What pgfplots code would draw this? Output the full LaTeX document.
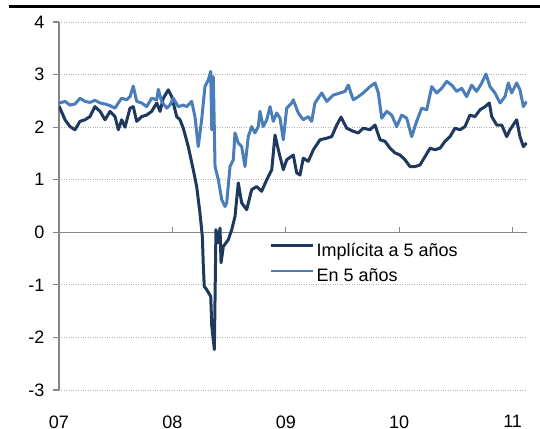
\documentclass[border=0pt]{standalone}
\usepackage{fontspec}
\setmainfont{Liberation Sans}
\usepackage{pgfplots}
\pgfplotsset{compat=1.18}
\definecolor{darkser}{RGB}{31,56,93}
\definecolor{lightser}{RGB}{74,126,187}
\definecolor{axgray}{RGB}{134,134,134}
\begin{document}
\begin{tikzpicture}
\path[use as bounding box] (-59pt,-38pt) rectangle (481pt,390pt);
\draw[black, line width=3pt] (-49.7pt,383.5pt) -- (481pt,383.5pt);
\begin{axis}[
  scale only axis, width=468pt, height=368pt,
  xmin=2007, xmax=2011.127, ymin=-3, ymax=4,
  axis y line*=left, axis x line*=bottom,
  x axis line style={draw=none},
  y axis line style={axgray, line width=1.5pt},
  ytick={-3,-2,-1,0,1,2,3,4}, yticklabels={-3,-2,-1,0,1,2,3,4},
  xtick={2007,2008,2009,2010,2011}, xticklabels={07,08,09,10,11},
  xtick style={draw=none},
  ytick style={axgray, line width=1.2pt},
  tick align=outside, major tick length=6pt,
  ymajorgrids, grid style={dotted, gray!60, line width=0.8pt},
  tick label style={font=\fontsize{18}{21}\selectfont},
  yticklabel style={xshift=-5pt},
  xticklabel style={yshift=-16pt},
  legend style={at={(axis cs:2008.86,-0.13)}, anchor=north west, draw=none, fill=none,
    inner sep=0pt, font=\fontsize{18}{21}\selectfont,
    nodes={text height=13pt, text depth=4pt, inner ysep=4.2pt, inner xsep=2pt},
    row sep=0pt},
  legend image code/.code={\draw[#1, line width=2.5pt] (0pt,6.5pt) -- (42pt,6.5pt);},
  legend cell align=left,
]
\draw[axgray, line width=1.5pt] (axis cs:2007,0) -- (axis cs:2011.127,0);
\draw[axgray, line width=1.2pt] (axis cs:2008,0) -- ++(0pt,5pt);
\draw[axgray, line width=1.2pt] (axis cs:2009,0) -- ++(0pt,5pt);
\draw[axgray, line width=1.2pt] (axis cs:2010,0) -- ++(0pt,5pt);
\draw[axgray, line width=1.2pt] (axis cs:2011,0) -- ++(0pt,5pt);
\addplot[darkser, line width=3pt, line join=round] coordinates {
(2007.000,2.40)(2007.009,2.36)(2007.053,2.14)(2007.097,2.01)(2007.141,1.95)(2007.185,2.11)
(2007.229,2.14)(2007.273,2.20)(2007.317,2.39)(2007.362,2.30)(2007.406,2.14)(2007.450,2.30)
(2007.494,2.20)(2007.523,1.95)(2007.553,2.14)(2007.582,2.00)(2007.626,2.36)(2007.655,2.39)
(2007.685,2.11)(2007.729,2.20)(2007.773,2.23)(2007.817,2.30)(2007.862,2.46)(2007.891,2.30)
(2007.920,2.55)(2007.964,2.71)(2007.994,2.58)(2008.038,2.20)(2008.067,2.14)(2008.096,1.98)
(2008.140,1.63)(2008.184,1.19)(2008.214,0.87)(2008.243,0.37)(2008.264,-0.08)(2008.272,-0.60)
(2008.281,-1.03)(2008.302,-1.09)(2008.338,-1.22)(2008.347,-1.78)(2008.370,-2.23)(2008.384,0.05)
(2008.405,-0.20)(2008.420,0.08)(2008.429,-0.58)(2008.449,-0.27)(2008.493,-0.14)(2008.523,0.05)
(2008.552,0.30)(2008.581,0.94)(2008.611,0.56)(2008.655,0.43)(2008.699,0.81)(2008.743,0.87)
(2008.787,0.78)(2008.832,1.00)(2008.876,1.19)(2008.905,1.85)(2008.934,1.57)(2008.978,1.19)
(2009.008,1.38)(2009.066,1.47)(2009.096,1.13)(2009.125,1.09)(2009.154,1.41)(2009.198,1.35)
(2009.243,1.57)(2009.302,1.76)(2009.361,1.79)(2009.405,1.82)(2009.449,2.04)(2009.487,2.19)
(2009.537,1.98)(2009.595,1.92)(2009.639,1.89)(2009.683,1.98)(2009.742,1.95)(2009.787,2.04)
(2009.831,1.76)(2009.875,1.73)(2009.919,1.60)(2009.963,1.51)(2010.007,1.47)(2010.051,1.38)
(2010.095,1.25)(2010.139,1.25)(2010.183,1.28)(2010.228,1.44)(2010.272,1.60)(2010.316,1.57)
(2010.360,1.60)(2010.404,1.73)(2010.448,1.82)(2010.492,1.98)(2010.536,1.95)(2010.580,2.01)
(2010.624,2.23)(2010.668,2.20)(2010.713,2.33)(2010.757,2.39)(2010.795,2.46)(2010.816,2.20)
(2010.860,2.04)(2010.904,2.04)(2010.948,1.82)(2010.977,1.95)(2011.036,2.14)(2011.065,1.82)
(2011.095,1.63)(2011.124,1.70)
};
\addlegendentry{Implícita a 5 años}
\addplot[lightser, line width=3pt, line join=round] coordinates {
(2007.000,2.46)(2007.009,2.46)(2007.053,2.49)(2007.097,2.42)(2007.141,2.44)(2007.185,2.55)
(2007.229,2.49)(2007.273,2.47)(2007.317,2.51)(2007.362,2.46)(2007.406,2.44)(2007.450,2.41)
(2007.494,2.36)(2007.523,2.46)(2007.553,2.55)(2007.597,2.52)(2007.626,2.58)(2007.655,2.78)
(2007.685,2.49)(2007.729,2.46)(2007.773,2.39)(2007.817,2.55)(2007.862,2.52)(2007.876,2.72)
(2007.905,2.49)(2007.950,2.36)(2007.979,2.42)(2008.008,2.55)(2008.052,2.39)(2008.096,2.42)
(2008.126,2.39)(2008.170,2.49)(2008.199,2.20)(2008.228,1.63)(2008.258,2.14)(2008.287,2.77)
(2008.317,2.90)(2008.338,3.06)(2008.347,1.95)(2008.361,2.96)(2008.376,1.25)(2008.405,1.00)
(2008.435,0.62)(2008.464,0.49)(2008.479,0.56)(2008.508,1.25)(2008.537,1.38)(2008.552,1.89)
(2008.581,1.70)(2008.611,1.63)(2008.640,1.25)(2008.669,1.82)(2008.699,2.01)(2008.728,1.89)
(2008.757,2.01)(2008.772,2.30)(2008.801,2.01)(2008.832,2.14)(2008.861,2.39)(2008.890,2.11)
(2008.920,2.27)(2008.949,2.17)(2008.978,1.76)(2009.008,2.36)(2009.052,2.46)(2009.066,2.52)
(2009.110,2.27)(2009.154,2.14)(2009.198,2.20)(2009.228,2.11)(2009.257,2.46)(2009.317,2.65)
(2009.361,2.49)(2009.419,2.61)(2009.478,2.65)(2009.522,2.68)(2009.551,2.80)(2009.595,2.52)
(2009.639,2.58)(2009.683,2.65)(2009.742,2.77)(2009.787,2.84)(2009.816,2.65)(2009.846,2.17)
(2009.890,2.30)(2009.934,2.23)(2009.978,2.01)(2010.022,2.23)(2010.066,2.17)(2010.110,1.82)
(2010.154,2.11)(2010.198,2.36)(2010.243,2.33)(2010.287,2.77)(2010.331,2.65)(2010.375,2.74)
(2010.419,2.87)(2010.463,2.80)(2010.507,2.68)(2010.551,2.74)(2010.595,2.58)(2010.639,2.80)
(2010.683,2.68)(2010.728,2.84)(2010.765,3.01)(2010.801,2.77)(2010.845,2.65)(2010.889,2.46)
(2010.933,2.58)(2010.962,2.84)(2010.992,2.65)(2011.036,2.84)(2011.065,2.71)(2011.095,2.39)
(2011.124,2.49)
};
\addlegendentry{En 5 años}
\end{axis}
\end{tikzpicture}
\end{document}
